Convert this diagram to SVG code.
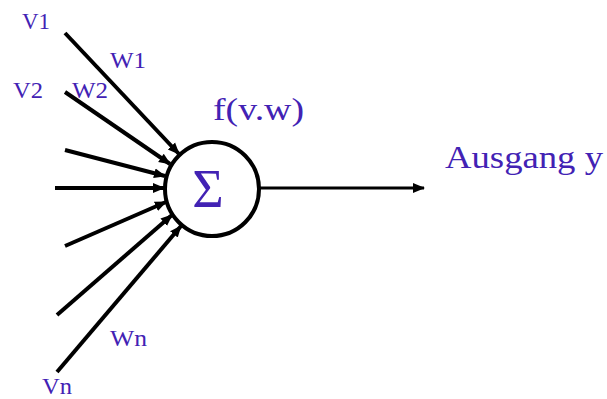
<svg xmlns="http://www.w3.org/2000/svg" width="607" height="399" viewBox="0 0 607 399">
<style>
.lbl{font-family:"Liberation Serif","Times New Roman",serif;fill:#4222b4;}
.s{font-size:24px;}
.in{stroke:#000;stroke-width:4;fill:none;marker-end:url(#ah);}
</style>
<defs>
<marker id="ah" markerUnits="userSpaceOnUse" markerWidth="12" markerHeight="12" refX="11" refY="6" orient="auto">
<path d="M0,1 L12,6 L0,11 Z" fill="#000"/>
</marker>
</defs>
<rect width="607" height="399" fill="#fff"/>
<g id="connectors">
<line class="in" x1="65" y1="33" x2="179" y2="154"/>
<line class="in" x1="65" y1="92" x2="170" y2="164"/>
<line class="in" x1="65" y1="150" x2="165" y2="176"/>
<line class="in" x1="55" y1="188" x2="164" y2="188"/>
<line class="in" x1="65" y1="246" x2="166" y2="202"/>
<line class="in" x1="57" y1="315" x2="172" y2="215"/>
<line class="in" x1="57" y1="372" x2="181" y2="226"/>
<line x1="260" y1="188" x2="424" y2="188" stroke="#000" stroke-width="3" marker-end="url(#ah)"/>
</g>
<g id="neuron">
<circle cx="212" cy="189" r="47" fill="#fff" stroke="#000" stroke-width="4"/>
<text class="lbl" x="208" y="207" font-size="54" text-anchor="middle">Σ</text>
</g>
<g id="labels">
<text class="lbl s" x="22" y="29" textLength="28" lengthAdjust="spacingAndGlyphs">V1</text>
<text class="lbl s" x="110" y="68" textLength="36" lengthAdjust="spacingAndGlyphs">W1</text>
<text class="lbl s" x="13" y="98" textLength="30" lengthAdjust="spacingAndGlyphs">V2</text>
<text class="lbl s" x="72" y="98" textLength="36" lengthAdjust="spacingAndGlyphs">W2</text>
<text class="lbl s" x="110" y="346" textLength="37" lengthAdjust="spacingAndGlyphs">Wn</text>
<text class="lbl s" x="42" y="394" textLength="30" lengthAdjust="spacingAndGlyphs">Vn</text>
<text class="lbl" x="213" y="120" font-size="32" textLength="91" lengthAdjust="spacingAndGlyphs">f(v.w)</text>
<text class="lbl" x="445" y="168" font-size="32" textLength="158" lengthAdjust="spacingAndGlyphs">Ausgang y</text>
</g>
</svg>
